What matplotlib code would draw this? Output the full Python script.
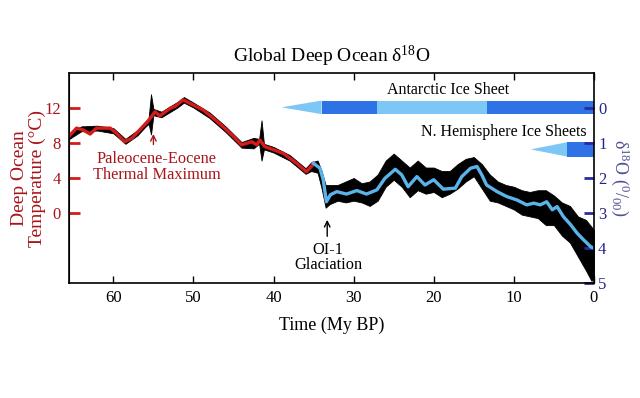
import numpy as np
import matplotlib
matplotlib.use("Agg")
import matplotlib.pyplot as plt

plt.rcParams['font.family'] = ['Liberation Serif', 'DejaVu Serif']
plt.rcParams['mathtext.fontset'] = 'custom'
plt.rcParams['mathtext.rm'] = 'Liberation Serif'
plt.rcParams['mathtext.it'] = 'Liberation Serif:italic'

# smoothed d18O curve, warm (pre-glacial) part, red
warm_age = [65.5, 65.4, 64.6, 63.8, 62.9, 62.1, 60.4, 59.6, 58.6, 57.7, 56.7, 55.7, 54.8,
            54.2, 52.9, 52.3, 51.3, 50.0, 48.8, 47.5, 46.3, 45.0, 44.0, 42.7, 42.1,
            41.7, 41.1, 40.0, 38.8, 37.1, 35.9, 35.2, 35.0]
warm_d18o = [0.80, 0.77, 0.57, 0.62, 0.74, 0.57, 0.57, 0.72, 0.96, 0.86, 0.62, 0.38, 0.10,
             0.22, 0.00, -0.05, -0.24, -0.09, 0.05, 0.29, 0.53, 0.81, 1.05, 0.96, 1.05,
             0.91, 1.10, 1.19, 1.29, 1.58, 1.82, 1.65, 1.58]

# smoothed d18O curve, icehouse part, light blue
cold_age = [35.0, 34.2, 33.8, 33.4, 32.9, 32.1, 30.9, 29.6, 28.4, 27.1, 26.1, 24.8, 24.0,
            23.2, 22.1, 21.1, 20.0, 18.8, 17.3, 16.5, 15.4, 14.6, 14.0, 13.4, 12.1,
            10.9, 9.6, 8.4, 7.5, 6.7, 5.9, 5.2, 4.6, 3.8, 2.9, 2.1, 1.3, 0.4, 0.1]
cold_d18o = [1.58, 1.72, 2.05, 2.68, 2.48, 2.39, 2.46, 2.36, 2.46, 2.34, 2.01, 1.75, 1.91,
             2.25, 1.96, 2.20, 2.05, 2.32, 2.29, 1.96, 1.72, 1.67, 1.91, 2.20, 2.39,
             2.53, 2.63, 2.77, 2.72, 2.77, 2.68, 2.91, 2.82, 3.11, 3.34, 3.58, 3.77, 3.97, 4.00]

# spread of the raw benthic measurements (upper / lower edge of the black cloud)
raw_age = [65.5, 64.0, 62.0, 60.0, 58.5, 57.0, 56.0, 55.6, 55.3, 55.0, 54.0, 52.0, 51.2,
           50.0, 48.0, 46.0, 44.0, 42.5, 41.8, 41.5, 41.2, 40.0, 38.0, 36.0, 35.3, 34.5,
           34.0, 33.5, 33.0, 32.0, 31.0, 30.0, 29.0, 28.0, 27.0, 26.0, 25.0, 24.0, 23.0,
           22.0, 21.0, 20.0, 19.0, 18.0, 17.0, 16.0, 15.0, 14.0, 13.0, 12.0, 11.0, 10.0,
           9.0, 8.0, 7.0, 6.0, 5.0, 4.0, 3.0, 2.0, 1.0, 0.3, 0.0]
raw_top = [0.72, 0.52, 0.50, 0.57, 0.88, 0.63, 0.38, 0.28, -0.40, 0.02, 0.10, -0.18, -0.32,
           -0.16, 0.12, 0.52, 0.97, 0.85, 0.88, 0.35, 1.02, 1.11, 1.34, 1.72, 1.55, 1.50,
           1.80, 2.20, 2.20, 2.20, 2.10, 2.00, 2.15, 2.10, 1.90, 1.50, 1.30, 1.50, 1.70,
           1.50, 1.70, 1.70, 1.80, 1.80, 1.60, 1.45, 1.40, 1.60, 1.90, 2.10, 2.20, 2.25,
           2.35, 2.40, 2.35, 2.35, 2.50, 2.70, 2.80, 3.10, 3.20, 3.40, 3.50]
raw_bot = [0.88, 0.66, 0.64, 0.72, 1.02, 0.78, 0.53, 0.45, 0.75, 0.20, 0.26, -0.02, -0.16,
           -0.02, 0.28, 0.68, 1.13, 1.15, 1.02, 1.50, 1.18, 1.27, 1.50, 1.88, 1.80, 1.85,
           2.30, 2.85, 2.75, 2.65, 2.70, 2.65, 2.70, 2.80, 2.65, 2.25, 2.05, 2.25, 2.55,
           2.35, 2.45, 2.40, 2.55, 2.45, 2.30, 2.10, 1.95, 2.30, 2.65, 2.70, 2.80, 2.90,
           3.05, 3.10, 3.15, 3.35, 3.35, 3.65, 3.85, 4.25, 4.65, 4.95, 4.85]

# ice sheet bars: (start age, end age) in My BP
antarctic_arrow = (39.0, 34.0)
antarctic_full = [(34.0, 27.1), (13.4, 0.0)]
antarctic_part = (34.0, 0.0)
nh_arrow = (7.9, 3.35)
nh_full = (3.35, 0.0)

temp_ticks = [0, 4, 8, 12]
d18o_ticks = [0, 1, 2, 3, 4, 5]
age_ticks = [60, 50, 40, 30, 20, 10, 0]

light = '#7cc7f6'
dark = '#2f72e6'
red = '#d21c1c'
darkred = '#a8141a'
navy = '#25258a'

fig = plt.figure(figsize=(6.4, 3.98), dpi=100)
ax = fig.add_axes([0.1083, 0.2897, 0.8197, 0.5261])

ax.fill_between(raw_age, raw_top, raw_bot, color='black', lw=0.6)
ax.plot(warm_age, warm_d18o, color=red, lw=2.4, solid_joinstyle='round')
ax.plot(cold_age, cold_d18o, color='#5ab4ea', lw=2.4, solid_joinstyle='round')

# Antarctic ice sheet bar
ay, ah = -0.025, 0.39
ax.fill([antarctic_arrow[0], antarctic_arrow[1], antarctic_arrow[1]],
        [ay, ay - ah / 2, ay + ah / 2], color=light, lw=0)
ax.barh(ay, antarctic_part[1] - antarctic_part[0], left=antarctic_part[0], height=ah,
        color=light, lw=0)
for a0, a1 in antarctic_full:
    ax.barh(ay, a1 - a0, left=a0, height=ah, color=dark, lw=0)

# northern hemisphere bar
ny, nh = 1.18, 0.41
ax.fill([nh_arrow[0], nh_arrow[1], nh_arrow[1]], [ny, ny - nh / 2, ny + nh / 2],
        color=light, lw=0)
ax.barh(ny, nh_full[1] - nh_full[0], left=nh_full[0], height=nh, color=dark, lw=0)

ax.text(18.25, -0.52, 'Antarctic Ice Sheet', ha='center', va='center', fontsize=11.5)
ax.text(0.85, 0.69, 'N. Hemisphere Ice Sheets', ha='right', va='center', fontsize=11.5)

ax.annotate('', xy=(55.0, 0.66), xytext=(55.0, 1.12),
            arrowprops=dict(arrowstyle='->', color=darkred, lw=1.0))
ax.text(54.6, 1.68, 'Paleocene-Eocene\nThermal Maximum', ha='center', va='center',
        fontsize=11.8, color=darkred, linespacing=0.95)
ax.annotate('', xy=(33.3, 3.12), xytext=(33.3, 3.75),
            arrowprops=dict(arrowstyle='->', color='black', lw=1.0))
ax.text(33.2, 4.28, 'OI-1\nGlaciation', ha='center', va='center', fontsize=11.8,
        linespacing=0.95)

ax.set_xlim(65.5, 0)
ax.set_ylim(5, -1.0)
ax.set_xticks(age_ticks)
ax.tick_params(axis='x', direction='in', top=True, length=5, width=1, labelsize=12, pad=5)
ax.yaxis.tick_right()
ax.set_yticks(d18o_ticks)
ax.tick_params(axis='y', direction='in', length=7, width=2, color='#2a2aa0',
               labelcolor=navy, labelsize=12, pad=3)
ax.set_xlabel('Time (My BP)', fontsize=13, labelpad=8)
ax.set_title('Global Deep Ocean δ$^{18}$O', fontsize=14, pad=8)
for s in ax.spines.values():
    s.set_linewidth(1.2)

ax.yaxis.set_label_position('right')
ax.set_ylabel('δ$^{18}$O ($^{0}/_{00}$)', rotation=270, color='#4f4f96', fontsize=13,
              labelpad=18)

sec = ax.secondary_yaxis('left', functions=(lambda d: 12 - 4 * d, lambda t: (12 - t) / 4))
sec.set_yticks(temp_ticks)
sec.tick_params(direction='in', length=8, width=2, color=red, labelcolor=darkred,
                labelsize=12, pad=6)
sec.set_ylabel('Deep Ocean\nTemperature (°C)', color=darkred, fontsize=14,
               linespacing=1.0, labelpad=-1)

fig.savefig('out.png', dpi=100)
